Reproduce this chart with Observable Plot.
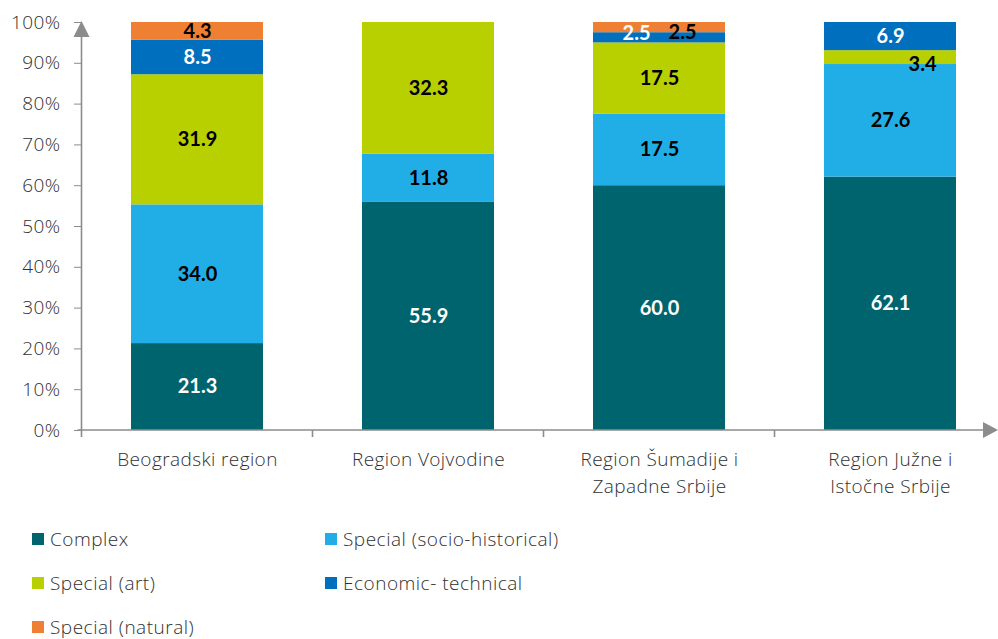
<!DOCTYPE html>
<html>
<head>
<meta charset="utf-8">
<script src="https://cdn.jsdelivr.net/npm/d3@7"></script>
<script src="https://cdn.jsdelivr.net/npm/@observablehq/plot@0.6"></script>
<style>
  body { margin: 0; background: #fff; font-family: "Open Sans", sans-serif; }
  #chart svg { display: block; overflow: visible; }
  [aria-label="y-axis tick"] { stroke: #8c8c8c; }
  [aria-label="y-axis tick label"], [aria-label="x-axis tick label"] { font-weight: 300; letter-spacing: 0.4px; }
  .legend { display: grid; grid-template-columns: 293px 400px; padding-left: 32px; margin-top: 2px; }
  .legend .item { height: 44px; display: flex; align-items: center; font-size: 19px; font-weight: 300; letter-spacing: 0.5px; color: #303030; }
  .legend .sw { width: 12px; height: 12px; margin-right: 6px; flex: none; }
</style>
</head>
<body>
<div id="chart"></div>
<div class="legend" id="legend"></div>
<script>
const categories = ["Beogradski region", "Region Vojvodine", "Region Šumadije i\nZapadne Srbije", "Region Južne i\nIstočne Srbije"];
const seriesNames = ["Complex", "Special (socio-historical)", "Special (art)", "Economic- technical", "Special (natural)"];
const complexValues = [21.3, 55.9, 60.0, 62.1];
const socioValues = [34.0, 11.8, 17.5, 27.6];
const artValues = [31.9, 32.3, 17.5, 3.4];
const economicValues = [8.5, 0, 2.5, 6.9];
const naturalValues = [4.3, 0, 2.5, 0];
const seriesColors = ["#00646E", "#21AEE6", "#B8CF00", "#0070BE", "#EF8033"];
const labelColors = ["#ffffff", "#000000", "#000000", "#ffffff", "#000000"];
const yTickValues = [0, 10, 20, 30, 40, 50, 60, 70, 80, 90, 100];

const valueLists = [complexValues, socioValues, artValues, economicValues, naturalValues];
const rows = [];
categories.forEach((c, ci) => {
  let base = 0;
  seriesNames.forEach((s, si) => {
    const v = valueLists[si][ci];
    rows.push({category: c, series: s, value: v, y1: base, y2: base + v, mid: base + v / 2, si, ci});
    base += v;
  });
});
const labelRows = rows.filter(d => d.value > 0);
// small nudges for crowded thin segments
function nudgeX(d) {
  if (d.ci === 2 && d.si === 3) return -23;
  if (d.ci === 2 && d.si === 4) return 23;
  if (d.ci === 3 && d.si === 2) return 32;
  return 0;
}
function nudgeY(d) {
  if (d.ci === 2 && d.si === 3) return -4;
  if (d.ci === 2 && d.si === 4) return 5;
  if (d.ci === 3 && d.si === 2) return 7;
  return 0;
}

const textMarks = [];
labelRows.forEach(d => {
  textMarks.push(Plot.text([d], {
    x: "category", y: "mid", text: d => d.value.toFixed(1),
    fill: labelColors[d.si], fontWeight: "bold", fontSize: 20,
    fontFamily: "Lato, sans-serif", dx: nudgeX(d), dy: nudgeY(d)
  }));
});

const chart = Plot.plot({
  width: 998,
  height: 515,
  marginLeft: 81,
  marginRight: 0,
  marginTop: 22,
  marginBottom: 85,
  style: {fontFamily: "Open Sans, sans-serif", color: "#303030", background: "#fff"},
  x: {domain: categories, range: [81.5, 1005.5], paddingInner: 0.4286, paddingOuter: 0.2143, label: null},
  y: {domain: [0, 100], label: null},
  color: {domain: seriesNames, range: seriesColors},
  marks: [
    Plot.barY(rows, {x: "category", y1: "y1", y2: "y2", fill: "series"}),
    ...textMarks,
    Plot.axisY({ticks: yTickValues, tickFormat: d => d + "%", tickSize: 7, tickPadding: 14, fontSize: 19, label: null}),
    Plot.axisX({tickSize: 0, tickPadding: 17, fontSize: 19, lineHeight: 1.4, label: null})
  ]
});
document.getElementById("chart").appendChild(chart);

// axis lines with arrows and category-boundary ticks
const xs = chart.scale("x");
const ys = chart.scale("y");
const svg = d3.select(chart);
const axisColor = "#8c8c8c";
const y0 = ys.apply(0);
const yTop = ys.apply(100);
const xLeft = xs.range[0];
const g = svg.append("g").attr("stroke", axisColor).attr("fill", axisColor);
g.append("line").attr("x1", xLeft).attr("x2", xLeft).attr("y1", y0 + 7).attr("y2", yTop + 15).attr("stroke-width", 1.6);
g.append("path").attr("stroke", "none").attr("d", `M${xLeft - 8},${yTop + 15}L${xLeft + 8},${yTop + 15}L${xLeft},${yTop - 1}Z`);
const xEnd = 998;
g.append("line").attr("x1", xLeft - 4).attr("x2", xEnd - 13).attr("y1", y0).attr("y2", y0).attr("stroke-width", 1.6);
g.append("path").attr("stroke", "none").attr("d", `M${xEnd - 15},${y0 - 8}L${xEnd - 15},${y0 + 8}L${xEnd},${y0}Z`);
categories.forEach((c, i) => {
  if (i === 0) return;
  const bx = xs.apply(c) - (xs.step - xs.bandwidth) / 2;
  g.append("line").attr("x1", bx).attr("x2", bx).attr("y1", y0).attr("y2", y0 + 7).attr("stroke-width", 1.6);
});

// legend
const legend = document.getElementById("legend");
seriesNames.forEach((s, i) => {
  const item = document.createElement("div");
  item.className = "item";
  const sw = document.createElement("span");
  sw.className = "sw";
  sw.style.background = seriesColors[i];
  item.appendChild(sw);
  item.appendChild(document.createTextNode(s));
  legend.appendChild(item);
});
</script>
</body>
</html>
